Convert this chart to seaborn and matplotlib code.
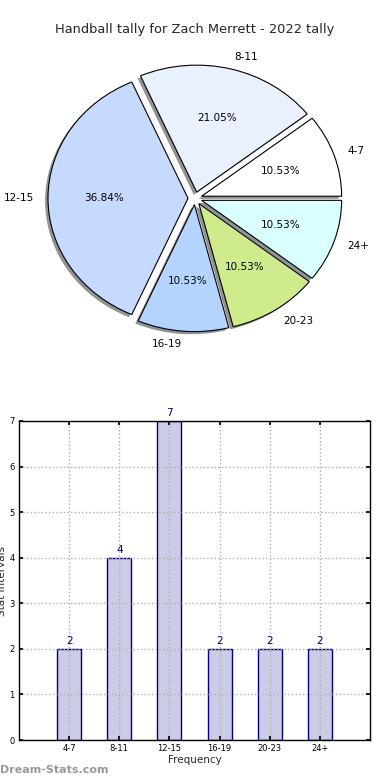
import matplotlib
matplotlib.use("Agg")
import matplotlib.pyplot as plt
import seaborn as sns

categories = ["4-7", "8-11", "12-15", "16-19", "20-23", "24+"]
counts = [2, 4, 7, 2, 2, 2]
pie_colors = ["#ffffff", "#eaf1fe", "#c6d9fe", "#b4d3fe", "#d0eb8c", "#d9ffff"]
title = "Handball tally for Zach Merrett - 2022 tally"

sns.set_theme(style="white")
plt.rcParams['font.family'] = ['DejaVu Sans']

fig = plt.figure(figsize=(3.9, 7.8), dpi=100)

# Pie chart (slightly squashed vertically, like the reference)
axp = fig.add_axes([0.141, 0.583, 0.718, 0.3256])
wedges, texts, autotexts = axp.pie(
    counts, labels=categories, colors=pie_colors, explode=[0.05] * len(counts),
    autopct="%.2f%%", startangle=0, shadow=dict(ox=-0.015, oy=-0.015, facecolor="#777777", alpha=0.8, edgecolor="none"),
    labeldistance=1.1, pctdistance=0.6,
    wedgeprops=dict(edgecolor="black", linewidth=0.8),
    textprops=dict(fontsize=7.5, color="black"),
)
axp.set_aspect("auto")
axp.set_xlim(-1.0, 1.0)
axp.set_ylim(-1.0, 1.0)
fig.text(0.5, 1 - 30 / 780, title, ha="center", va="center", fontsize=9.4)

# Bar chart
axb = fig.add_axes([19 / 390, 40 / 780, 351 / 390, 319 / 780])
sns.barplot(x=categories, y=counts, ax=axb, color="#ccccE6", saturation=1,
            width=0.48, edgecolor="navy", linewidth=1)
axb.set_xlim(-1, 6)
axb.set_ylim(0, 7)
axb.set_yticks(range(0, 8))
axb.grid(True, linestyle=":", color="#b0b0b0", linewidth=1)
axb.set_axisbelow(False)
for p in axb.patches:
    p.set_zorder(1)
for sp in axb.spines.values():
    sp.set_color("black")
    sp.set_linewidth(1)
    sp.set_zorder(5)
axb.tick_params(direction="in", top=True, right=True, labelsize=6, length=3,
                bottom=True, left=True, colors="black", pad=3)
for i, v in enumerate(counts):
    axb.text(i, v + 0.06, str(v), ha="center", va="bottom", fontsize=7.5, color="navy")
axb.set_xlabel("Frequency", fontsize=7.5, labelpad=1)
axb.set_ylabel("Stat Intervals", fontsize=7.5, labelpad=2)
axb.yaxis.set_label_coords(-0.033, 0.5)

fig.text(0.0, 1 - 770 / 780, "Dream-Stats.com", ha="left", va="center",
         fontsize=8, color="#999999", fontweight="bold")

fig.savefig("out.png", dpi=100)
